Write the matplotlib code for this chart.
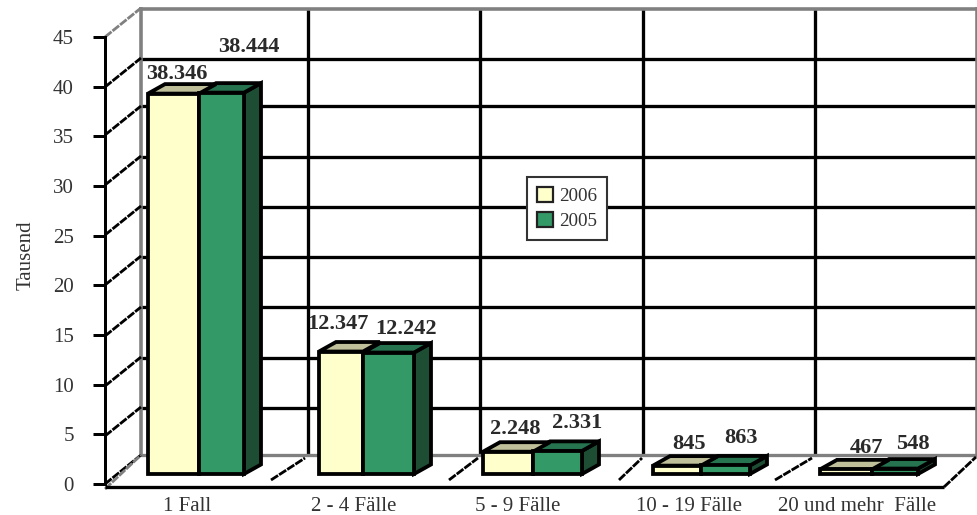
import matplotlib
matplotlib.use("Agg")
import matplotlib.pyplot as plt
from matplotlib.patches import Polygon, Patch

W, H = 978, 515
categories = ["1 Fall", "2 - 4 Fälle", "5 - 9 Fälle", "10 - 19 Fälle", "20 und mehr  Fälle"]
series_names = ["2006", "2005"]
values_2006 = [38.346, 12.347, 2.248, 0.845, 0.467]
values_2005 = [38.444, 12.242, 2.331, 0.863, 0.548]
y_ticks = [0, 5, 10, 15, 20, 25, 30, 35, 40, 45]
y_title = "Tausend"

# layout (pixels)
PX_PER_UNIT = 9.92
BASE_PX = 474
bar_left = [148, 319, 483, 653, 820]
bar_split = [199, 363, 533, 701, 872]
bar_right = [244, 414, 582, 750, 918]
DX, DY = 17, 9.5
wall_left, wall_right, wall_top, wall_floor = 141, 977, 9, 455
wall_h = [59, 106, 157, 207, 257, 307, 358, 408]
wall_v = [308, 480, 643, 815]
front_ticks_px = [484, 436, 386, 336, 285, 235, 185, 135, 87, 37]
label_x_px = [187, 354, 518, 689, 857]
lab06 = [(177, 79), (338, 329), (515, 434), (689, 449), (866, 453)]
lab05 = [(249, 52), (406, 334), (577, 428), (741, 443), (913, 449)]
floor_diag = [(271, 480, 305, 458), (449, 480, 478, 458), (619, 480, 642, 458), (775, 480, 812, 458)]

SERIF = "Liberation Serif"
TXT = "#333333"
plt.rcParams["font.family"] = SERIF
PT = 0.72
LW_GRID = 3.3 * PT
LW_BAR = 3.8 * PT
LW_GREY = 3.6 * PT
LW_DIAG = 2.8 * PT
DASH = (0, (3.0, 0.45))
YEL, GRN = "#FFFFCC", "#339966"
YEL_TOP, GRN_TOP, GRN_SIDE = "#BFBF99", "#267350", "#1D4D33"
GREY = "#808080"


def py(p):
    """pixel row -> value on the bar plane"""
    return (BASE_PX - p) / PX_PER_UNIT


fig = plt.figure(figsize=(W / 100, H / 100), dpi=100)
ax = fig.add_axes([0, 0, 1, 1])
ax.set_xlim(0, W)
ax.set_ylim(py(H), py(0))
ax.axis("off")

# walls
for p in wall_h:
    ax.plot([wall_left, wall_right], [py(p)] * 2, color="k", lw=LW_GRID, solid_capstyle="butt", zorder=1)
for x in wall_v:
    ax.plot([x, x], [py(wall_top), py(wall_floor)], color="k", lw=LW_GRID, solid_capstyle="butt", zorder=1)
ax.plot([wall_left, wall_right], [py(wall_top)] * 2, color=GREY, lw=LW_GREY, solid_capstyle="projecting", zorder=2)
ax.plot([wall_left, wall_left], [py(wall_top), py(wall_floor)], color=GREY, lw=LW_GREY, zorder=2)
ax.plot([wall_right, wall_right], [py(wall_top), py(wall_floor)], color=GREY, lw=LW_GREY, zorder=2)
ax.plot([wall_left, wall_right], [py(wall_floor)] * 2, color=GREY, lw=LW_GRID, solid_capstyle="butt", zorder=2)

# left side wall diagonals
for i, p in enumerate(front_ticks_px):
    col = GREY if i == len(front_ticks_px) - 1 else "k"
    ax.plot([105, wall_left], [py(p), py(p - 29)], color=col, lw=LW_DIAG, ls=DASH, zorder=2)
ax.plot([105, wall_left], [py(489), py(wall_floor)], color=GREY, lw=LW_DIAG, ls=DASH, zorder=2)

# floor
ax.plot([105, 944], [py(487)] * 2, color="k", lw=LW_GRID, solid_capstyle="butt", zorder=3)
ax.plot([944, 976], [py(487), py(457)], color="k", lw=LW_DIAG, ls=DASH, zorder=3)
for x0, y0, x1, y1 in floor_diag:
    ax.plot([x0, x1], [py(y0), py(y1)], color="k", lw=LW_DIAG, ls=DASH, zorder=3)

# 3D bars
dv = DY / PX_PER_UNIT
edge = dict(edgecolor="k", linewidth=LW_BAR, joinstyle="miter", zorder=4)
for i in range(len(categories)):
    l, s, r = bar_left[i], bar_split[i], bar_right[i]
    v6, v5 = values_2006[i], values_2005[i]
    ax.add_patch(Polygon([(r, 0), (r + DX, dv), (r + DX, v5 + dv), (r, v5)], facecolor=GRN_SIDE, **edge))
    ax.add_patch(Polygon([(s, v5), (r, v5), (r + DX, v5 + dv), (s + DX, v5 + dv)], facecolor=GRN_TOP, **edge))
    ax.add_patch(Polygon([(l, v6), (s, v6), (s + DX, v6 + dv), (l + DX, v6 + dv)], facecolor=YEL_TOP, **edge))
    ax.bar(l, v6, width=s - l, align="edge", color=YEL, edgecolor="k", linewidth=LW_BAR, zorder=5)
    ax.bar(s, v5, width=r - s, align="edge", color=GRN, edgecolor="k", linewidth=LW_BAR, zorder=5)


def fmt(v):
    return f"{v:.3f}" if v >= 1 else f"{v * 1000:.0f}"


for vals, pos in ((values_2006, lab06), (values_2005, lab05)):
    for v, (x, p) in zip(vals, pos):
        ax.text(x, py(p), fmt(v), ha="center", va="baseline", fontsize=16.1,
                fontweight="bold", color="#2a2a2a", zorder=6)

for x, c in zip(label_x_px, categories):
    ax.text(x, py(511), c, ha="center", va="baseline", fontsize=15, color=TXT, zorder=6)

# legend
leg_handles = [Patch(facecolor=YEL, edgecolor="#222222", linewidth=1.6),
               Patch(facecolor=GRN, edgecolor="#222222", linewidth=1.6)]
leg = ax.legend(leg_handles, series_names, loc="upper left",
                bbox_to_anchor=(527 / W, 1 - 177 / H), bbox_transform=fig.transFigure,
                fontsize=13.8, frameon=True, fancybox=False, framealpha=1, edgecolor="#333333",
                handlelength=0.84, handleheight=0.84, handletextpad=0.33,
                labelspacing=0.36, borderpad=0.5, borderaxespad=0, labelcolor=TXT)
leg.get_frame().set_linewidth(1.5)
leg.set_zorder(7)

# front value axis
ax2 = fig.add_axes([105 / W, 1 - front_ticks_px[0] / H, 0.02, (front_ticks_px[0] - front_ticks_px[-1]) / H])
ax2.patch.set_alpha(0)
ax2.set_ylim(0, 45)
ax2.set_xticks([])
ax2.set_yticks(y_ticks)
ax2.tick_params(axis="y", length=12 * PT, width=3 * PT, color="k", labelsize=15, labelcolor=TXT, pad=19 * PT)
for k in ("top", "right", "bottom"):
    ax2.spines[k].set_visible(False)
ax2.spines["left"].set_linewidth(3 * PT)
ax2.spines["left"].set_capstyle("projecting")

fig.text(26 / W, 1 - 255 / H, y_title, rotation=90, ha="center", va="center", fontsize=15, color=TXT)

fig.savefig("out.png", dpi=100)
